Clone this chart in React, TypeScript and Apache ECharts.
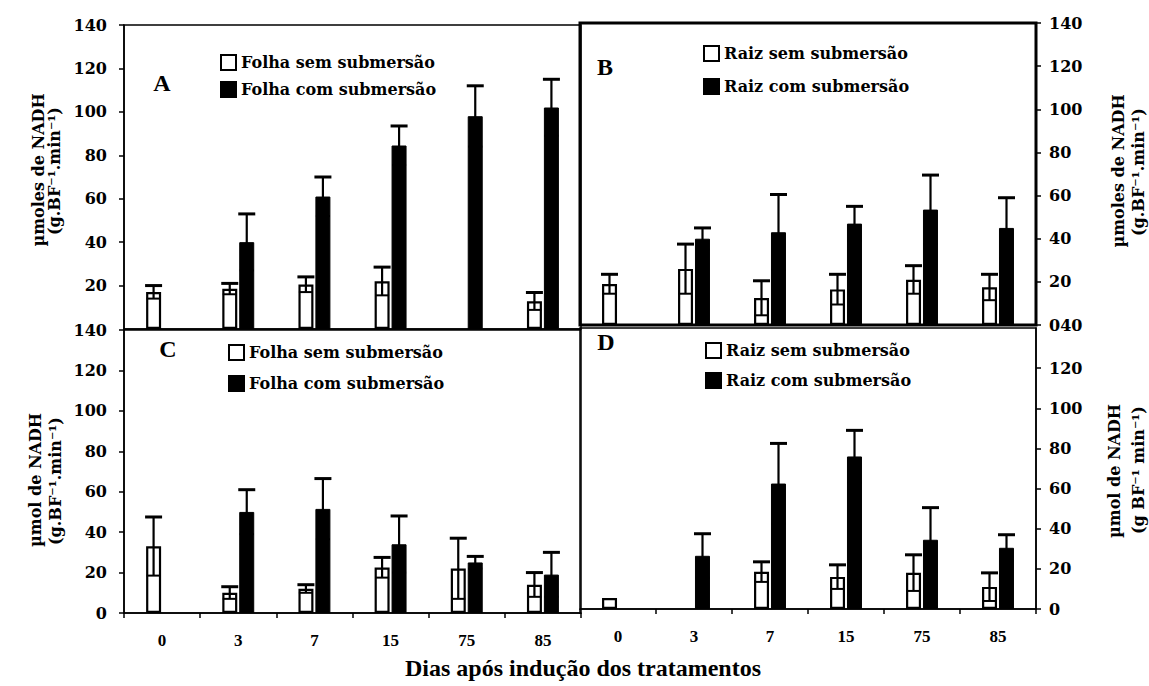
import React, { useEffect, useRef } from "react";
import * as echarts from "echarts";

const categories = ["0", "3", "7", "15", "75", "85"];

// Panel A – leaf (Folha)
const folhaSemA = [17, 18.5, 20.5, 22, 0, 12.8];
const folhaSemAErr = [3, 2.5, 3.5, 6.5, 0, 4];
const folhaComA = [0, 40, 61, 84.5, 98, 102];
const folhaComAErr = [0, 13, 9, 9, 14, 13];
// Panel B – root (Raiz)
const raizSemB = [19, 26, 12.5, 16.5, 21, 17.5];
const raizSemBErr = [4.5, 11.5, 8, 7, 6.5, 6];
const raizComB = [0, 40, 43, 47, 53.5, 45];
const raizComBErr = [0, 5, 17.5, 8, 16, 14];
// Panel C – leaf (Folha)
const folhaSemC = [33, 10, 12, 22.5, 22, 14];
const folhaSemCErr = [14.5, 3, 2, 5, 15, 6];
const folhaComC = [0, 50, 51.5, 34, 25, 19];
const folhaComCErr = [0, 11, 15, 14, 3, 11];
// Panel D – root (Raiz)
const raizSemD = [5.5, 0, 18.5, 16, 18, 11];
const raizSemDErr = [0, 0, 5, 6, 9, 7];
const raizComD = [0, 26.5, 62.5, 76, 34.5, 30.5];
const raizComDErr = [0, 11, 20, 13, 16, 6.5];

const folhaNames = ["Folha sem submersão", "Folha com submersão"];
const raizNames = ["Raiz sem submersão", "Raiz com submersão"];

const TIMES = '"Liberation Serif", "Times New Roman", serif';
const WIDE = '"DejaVu Serif", "Liberation Serif", serif';
const BAR_W = 15;
const OFF = 8.5;

function errRender(offset: number) {
  return (params: any, api: any) => {
    const i = api.value(0);
    const v = api.value(1);
    const e = api.value(2);
    if (!e) return null;
    const top = api.coord([i, v + e]);
    const bot = api.coord([i, Math.max(0, v - e)]);
    const x = top[0] + offset;
    return {
      type: "group",
      children: [
        { type: "line", shape: { x1: x, y1: top[1], x2: x, y2: bot[1] }, style: { stroke: "#000", lineWidth: 2.2 } },
        { type: "line", shape: { x1: x - 8.5, y1: top[1], x2: x + 8.5, y2: top[1] }, style: { stroke: "#000", lineWidth: 3 } },
        { type: "line", shape: { x1: x - 7, y1: bot[1], x2: x + 7, y2: bot[1] }, style: { stroke: "#000", lineWidth: 2 } },
      ],
    };
  };
}

export default function App() {
  const ref = useRef<HTMLDivElement>(null);
  useEffect(() => {
    const chart = echarts.init(ref.current!, null, { renderer: "svg" });

    const grids = [
      { left: 124, top: 25, width: 457, height: 304, show: true, borderColor: "#000", borderWidth: 1.5 },
      { left: 580, top: 23, width: 456, height: 302, show: true, borderColor: "#000", borderWidth: 3, z: 3 },
      { left: 124, top: 330, width: 457, height: 283, show: true, borderColor: "#000", borderWidth: 1.5 },
      { left: 580, top: 328, width: 456, height: 281, show: true, borderColor: "#000", borderWidth: 1.5 },
    ];

    const xAxes = [0, 1, 2, 3].map((g) => ({
      type: "category",
      gridIndex: g,
      data: categories,
      axisLine: { show: true, lineStyle: { color: "#000", width: 1.5 } },
      axisTick: { show: g >= 2, inside: false, length: 5, lineStyle: { color: "#000", width: 1.5 } },
      axisLabel: {
        show: g >= 2,
        margin: 19,
        fontSize: 17,
        fontWeight: "bold",
        fontFamily: TIMES,
        color: "#000",
      },
      splitLine: { show: false },
    }));

    const yBase = (g: number, pos: string, extra: any) => ({
      type: "value",
      gridIndex: g,
      position: pos,
      min: 0,
      max: 140,
      interval: 20,
      axisLine: { show: true, lineStyle: { color: "#000", width: 1.5 } },
      axisTick: { show: true, inside: false, length: 5, lineStyle: { color: "#000", width: 1.5 } },
      axisLabel: {
        margin: pos === "left" ? 17 : 13,
        fontSize: 16,
        fontWeight: "bold",
        fontFamily: WIDE,
        color: "#000",
        ...extra,
      },
      splitLine: { show: false },
    });

    const yAxes = [
      yBase(0, "left", { showMinLabel: false }),
      yBase(1, "right", { formatter: (v: number) => (v === 0 ? "040" : String(v)) }),
      yBase(2, "left", {}),
      yBase(3, "right", { showMaxLabel: false }),
    ];

    const whiteStyle = { color: "#fff", borderColor: "#000", borderWidth: 2.2 };
    const blackStyle = { color: "#000", borderColor: "#000", borderWidth: 1 };

    const panels = [
      { g: 0, names: folhaNames, sem: folhaSemA, semErr: folhaSemAErr, com: folhaComA, comErr: folhaComAErr },
      { g: 1, names: raizNames, sem: raizSemB, semErr: raizSemBErr, com: raizComB, comErr: raizComBErr },
      { g: 2, names: folhaNames, sem: folhaSemC, semErr: folhaSemCErr, com: folhaComC, comErr: folhaComCErr },
      { g: 3, names: raizNames, sem: raizSemD, semErr: raizSemDErr, com: raizComD, comErr: raizComDErr },
    ];

    const series: any[] = [];
    panels.forEach((p) => {
      series.push({
        type: "bar",
        name: p.names[0],
        xAxisIndex: p.g,
        yAxisIndex: p.g,
        data: p.sem.map((v) => (v === 0 ? null : v)),
        barWidth: BAR_W,
        barGap: "13%",
        itemStyle: whiteStyle,
        z: 2,
      });
      series.push({
        type: "bar",
        name: p.names[1],
        xAxisIndex: p.g,
        yAxisIndex: p.g,
        data: p.com.map((v) => (v === 0 ? null : v)),
        barWidth: BAR_W,
        barGap: "13%",
        itemStyle: blackStyle,
        z: 2,
      });
      series.push({
        type: "custom",
        name: p.names[0] + " (erro)",
        xAxisIndex: p.g,
        yAxisIndex: p.g,
        renderItem: errRender(-OFF),
        data: p.sem.map((v, i) => [i, v, p.semErr[i]]),
        encode: { x: 0, y: 1 },
        z: 4,
        silent: true,
      });
      series.push({
        type: "custom",
        name: p.names[1] + " (erro)",
        xAxisIndex: p.g,
        yAxisIndex: p.g,
        renderItem: errRender(OFF),
        data: p.com.map((v, i) => [i, v, p.comErr[i]]),
        encode: { x: 0, y: 1 },
        z: 4,
        silent: true,
      });
    });

    const mkLegend = (left: number, top: number, gap: number, names: string[]) => ({
      orient: "vertical",
      left,
      top,
      itemGap: gap,
      itemWidth: 15,
      itemHeight: 15,
      icon: "rect",
      data: names,
      textStyle: { fontSize: 16, lineHeight: 17, fontWeight: "bold", fontFamily: WIDE, color: "#000" },
      selectedMode: false,
      padding: 0,
    });

    const txt = (text: string, x: number, y: number, size: number, family: string, rot = 0) => ({
      type: "text",
      x,
      y,
      rotation: rot,
      style: {
        text,
        fontSize: size,
        fontWeight: "bold",
        fontFamily: family,
        fill: "#000",
        align: "center",
        verticalAlign: "middle",
        textAlign: "center",
        textVerticalAlign: "middle",
      },
    });
    const R = Math.PI / 2;

    chart.setOption({
      animation: false,
      backgroundColor: "#fff",
      textStyle: { fontFamily: TIMES },
      title: {
        text: "Dias após indução dos tratamentos",
        left: 578,
        textAlign: "center",
        top: 651,
        textStyle: { fontSize: 24, fontWeight: "bold", fontFamily: TIMES, color: "#000" },
      },
      grid: grids,
      xAxis: xAxes,
      yAxis: yAxes,
      legend: [
        mkLegend(220, 54, 10, folhaNames),
        mkLegend(703, 45, 16, raizNames),
        mkLegend(228, 344, 14, folhaNames),
        mkLegend(705, 342, 13, raizNames),
      ],
      graphic: [
        txt("A", 162, 83, 24, TIMES),
        txt("B", 605, 67, 24, TIMES),
        txt("C", 168, 349, 24, TIMES),
        txt("D", 606, 342, 24, TIMES),
        txt("µmoles de NADH", 38, 170, 16, WIDE, R),
        txt("(g.BF⁻¹.min⁻¹)", 54, 171, 16, WIDE, R),
        txt("µmoles de NADH", 1118, 171, 16, WIDE, R),
        txt("(g.BF⁻¹.min⁻¹)", 1138, 172, 16, WIDE, R),
        txt("µmol de NADH", 35, 480, 16, WIDE, R),
        txt("(g.BF⁻¹.min⁻¹)", 55, 481, 16, WIDE, R),
        txt("µmol de NADH", 1114, 471, 16, WIDE, R),
        txt("(g BF⁻¹ min⁻¹)", 1138, 470, 16, WIDE, R),
      ],
      series,
    });
    return () => chart.dispose();
  }, []);
  return (
    <div
      ref={ref}
      style={{ position: "fixed", left: 0, top: 0, width: 1149, height: 686, background: "#fff" }}
    />
  );
}
